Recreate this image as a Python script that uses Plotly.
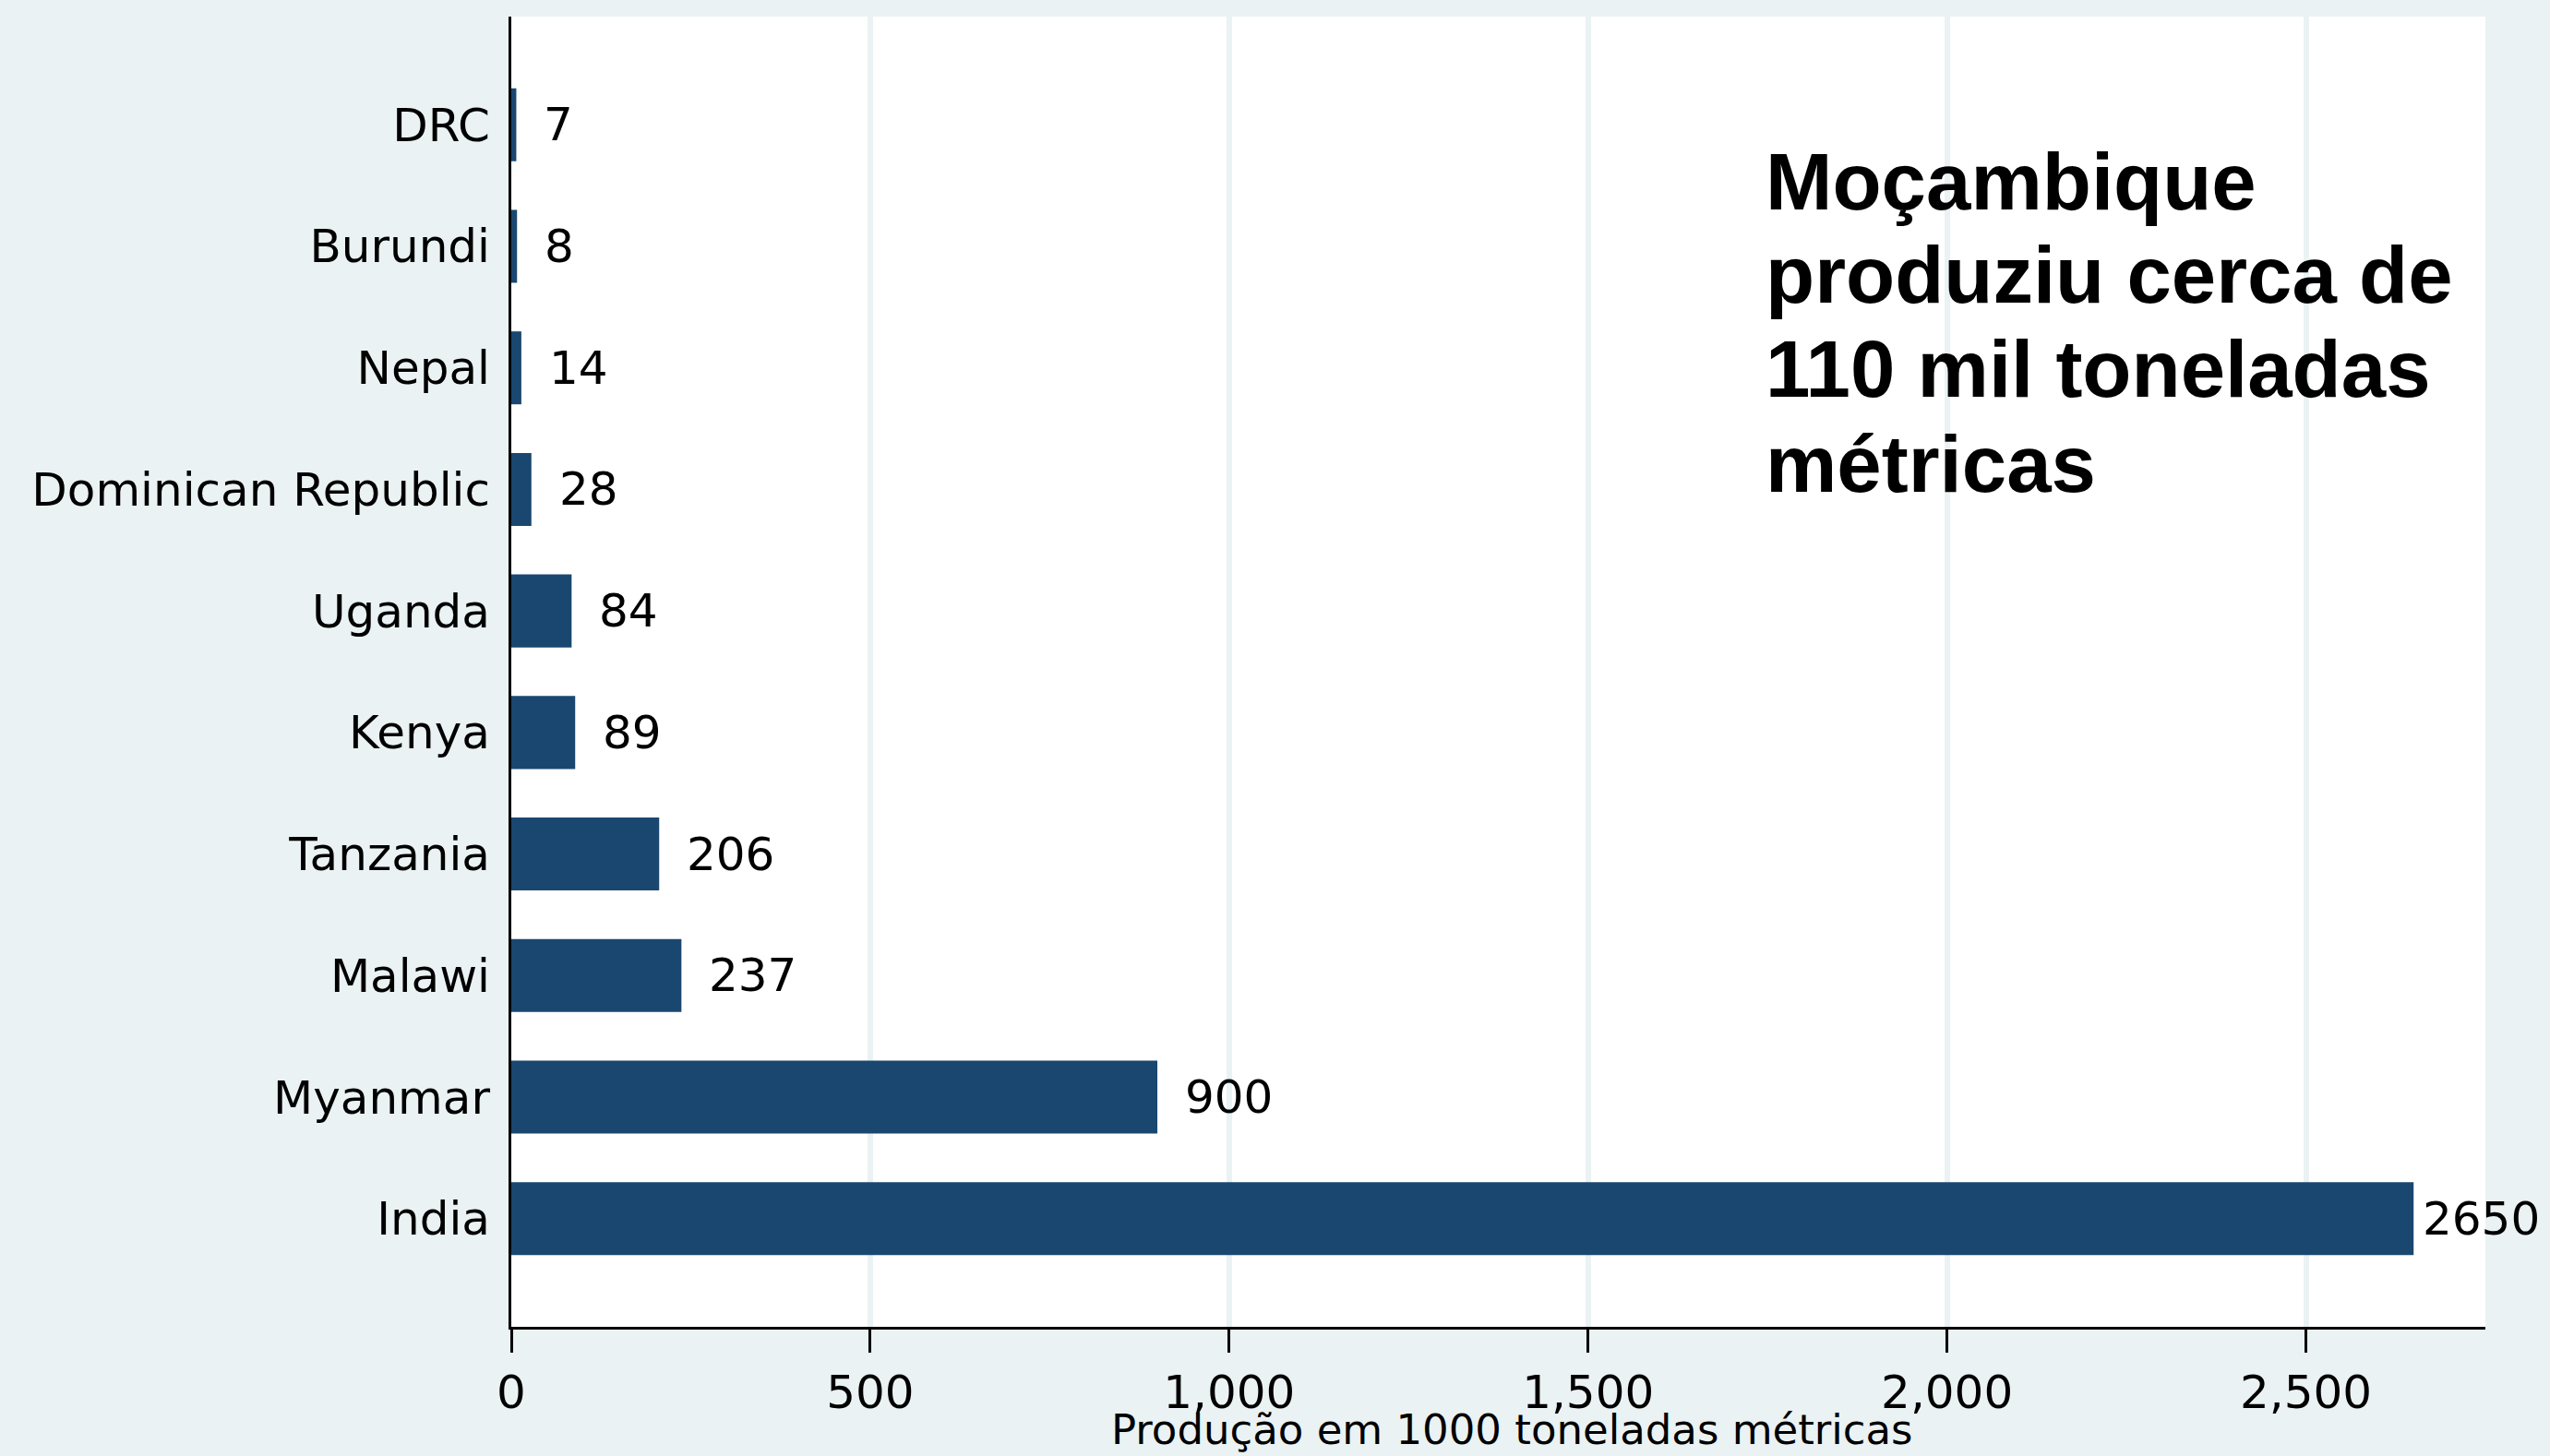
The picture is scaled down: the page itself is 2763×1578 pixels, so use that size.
import plotly.graph_objects as go

countries = ["India", "Myanmar", "Malawi", "Tanzania", "Kenya", "Uganda",
             "Dominican Republic", "Nepal", "Burundi", "DRC"]
production = [2650, 900, 237, 206, 89, 84, 28, 14, 8, 7]
x_ticks = [0, 500, 1000, 1500, 2000, 2500]
note_lines = ["Moçambique", "produziu cerca de", "110 mil toneladas", "métricas"]
x_title = "Produção em 1000 toneladas métricas"

BG = "#eaf2f3"
BAR = "#1a476f"
FONT = "DejaVu Sans"

fig = go.Figure()
fig.add_trace(go.Bar(
    x=production, y=countries, orientation="h",
    marker=dict(color=BAR, line=dict(width=0)),
    width=0.6, showlegend=False, hoverinfo="x+y",
))

annotations = []
vmax = max(production)
for c, v in zip(countries, production):
    annotations.append(dict(
        x=v, y=c, xref="x", yref="y", text=str(v), showarrow=False,
        xanchor="left", yanchor="middle", xshift=(8 if v == vmax else 28),
        font=dict(family=FONT, size=50, color="black"),
    ))

note_y = [0.8746, 0.8035, 0.731, 0.659]
for line, yy in zip(note_lines, note_y):
    annotations.append(dict(
        x=1744, y=yy, xref="x", yref="paper", text="<b>" + line + "</b>",
        showarrow=False, xanchor="left", yanchor="middle",
        font=dict(family="Liberation Sans", size=87, color="black"),
    ))

# x-axis title
annotations.append(dict(
    x=0.507, y=-0.0787, xref="paper", yref="paper", text=x_title,
    showarrow=False, xanchor="center", yanchor="middle",
    font=dict(family=FONT, size=45, color="black"),
))

fig.update_layout(
    width=2763, height=1578,
    margin=dict(l=554, r=70, t=18, b=140, autoexpand=False),
    paper_bgcolor=BG, plot_bgcolor="white",
    font=dict(family=FONT, size=50, color="black"),
    annotations=annotations,
    bargap=0.4,
)
fig.update_xaxes(
    range=[0, 2750], tickvals=x_ticks, tickformat=",",
    showgrid=True, gridcolor=BG, gridwidth=6,
    showline=True, linecolor="black", linewidth=3,
    ticks="outside", ticklen=25, tickwidth=2.5, tickcolor="black",
    tickfont=dict(family=FONT, size=50, color="black"),
    zeroline=False,
)
fig.update_yaxes(
    categoryorder="array", categoryarray=countries,
    range=[-0.89, 9.89],
    showgrid=False, zeroline=False,
    showline=True, linecolor="black", linewidth=3,
    ticks="outside", ticklen=10, tickcolor="rgba(0,0,0,0)",
    tickfont=dict(family=FONT, size=50, color="black"),
)

fig.write_html(
    "out.html",
    config={"displayModeBar": False},
    post_script="document.body.style.margin='0px';document.body.style.overflow='hidden';",
)
